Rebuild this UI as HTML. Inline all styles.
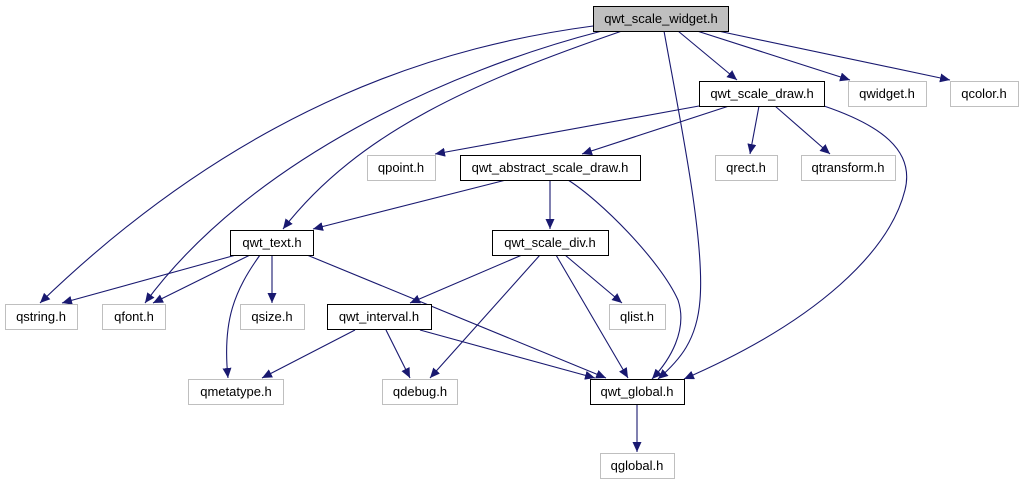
<!DOCTYPE html>
<html><head><meta charset="utf-8"><style>
html,body{margin:0;padding:0;background:#fff;}
svg{display:block;}
text{font-family:"Liberation Sans",sans-serif;font-size:13px;text-anchor:middle;fill:#000;}
</style></head><body>
<svg width="1027" height="485" viewBox="0 0 1027 485" xmlns="http://www.w3.org/2000/svg">
<defs>
<marker id="a" markerWidth="11" markerHeight="9" refX="10" refY="4.5" orient="auto" markerUnits="userSpaceOnUse">
<path d="M0,0 L10,4.5 L0,9 Z" fill="#191970"/>
</marker>
</defs>
<g fill="none" stroke="#191970" stroke-width="1.1" marker-end="url(#a)">
<path d="M678,31 L737,80"/>
<path d="M697,31 L850,80"/>
<path d="M718,31 L950,80"/>
<path d="M664,31 C680,120 705,240 700,300 C697,340 680,360 658,379"/>
<path d="M622,31 C480,80 360,130 283,229"/>
<path d="M602,31 C450,70 250,160 145,303"/>
<path d="M593,26 C450,45 250,100 40,303"/>
<path d="M699,106 L435,154"/>
<path d="M729,106 L582,154"/>
<path d="M759,106 L750,154"/>
<path d="M775,106 L830,154"/>
<path d="M824,106 C880,125 915,150 905,190 C890,250 820,320 684,379"/>
<path d="M506,180 L313,229"/>
<path d="M550,180 L550,229"/>
<path d="M568,180 C600,200 660,260 678,300 C688,330 670,360 652,379"/>
<path d="M236,255 L62,303"/>
<path d="M250,255 L153,303"/>
<path d="M272,255 L272,303"/>
<path d="M260,255 C235,290 222,320 228,378"/>
<path d="M307,255 L606,378"/>
<path d="M522,255 L410,303"/>
<path d="M540,255 L430,378"/>
<path d="M556,255 L628,378"/>
<path d="M565,255 L622,303"/>
<path d="M355,330 L262,378"/>
<path d="M386,330 L410,378"/>
<path d="M420,330 L595,378"/>
<path d="M637,404 L637,452"/>
</g>
<g stroke-width="1">
<rect x="593.5" y="6.5" width="135" height="25" fill="#bfbfbf" stroke="#000"/>
<rect x="699.5" y="81.5" width="125" height="25" fill="#fff" stroke="#000"/>
<rect x="848.5" y="81.5" width="78" height="25" fill="#fff" stroke="#bfbfbf"/>
<rect x="950.5" y="81.5" width="68" height="25" fill="#fff" stroke="#bfbfbf"/>
<rect x="367.5" y="155.5" width="68" height="25" fill="#fff" stroke="#bfbfbf"/>
<rect x="460.5" y="155.5" width="180" height="25" fill="#fff" stroke="#000"/>
<rect x="715.5" y="155.5" width="62" height="25" fill="#fff" stroke="#bfbfbf"/>
<rect x="801.5" y="155.5" width="94" height="25" fill="#fff" stroke="#bfbfbf"/>
<rect x="230.5" y="230.5" width="83" height="25" fill="#fff" stroke="#000"/>
<rect x="492.5" y="230.5" width="116" height="25" fill="#fff" stroke="#000"/>
<rect x="5.5" y="304.5" width="72" height="25" fill="#fff" stroke="#bfbfbf"/>
<rect x="102.5" y="304.5" width="63" height="25" fill="#fff" stroke="#bfbfbf"/>
<rect x="240.5" y="304.5" width="64" height="25" fill="#fff" stroke="#bfbfbf"/>
<rect x="327.5" y="304.5" width="104" height="25" fill="#fff" stroke="#000"/>
<rect x="609.5" y="304.5" width="56" height="25" fill="#fff" stroke="#bfbfbf"/>
<rect x="188.5" y="379.5" width="95" height="25" fill="#fff" stroke="#bfbfbf"/>
<rect x="382.5" y="379.5" width="75" height="25" fill="#fff" stroke="#bfbfbf"/>
<rect x="590.5" y="379.5" width="94" height="25" fill="#fff" stroke="#000"/>
<rect x="600.5" y="453.5" width="74" height="25" fill="#fff" stroke="#bfbfbf"/>
</g>
<text x="661" y="23">qwt_scale_widget.h</text>
<text x="762" y="98">qwt_scale_draw.h</text>
<text x="887" y="98">qwidget.h</text>
<text x="984" y="98">qcolor.h</text>
<text x="401" y="172">qpoint.h</text>
<text x="550" y="172">qwt_abstract_scale_draw.h</text>
<text x="746" y="172">qrect.h</text>
<text x="848" y="172">qtransform.h</text>
<text x="272" y="247">qwt_text.h</text>
<text x="550" y="247">qwt_scale_div.h</text>
<text x="41" y="321">qstring.h</text>
<text x="134" y="321">qfont.h</text>
<text x="272" y="321">qsize.h</text>
<text x="379" y="321">qwt_interval.h</text>
<text x="637" y="321">qlist.h</text>
<text x="236" y="396">qmetatype.h</text>
<text x="420" y="396">qdebug.h</text>
<text x="637" y="396">qwt_global.h</text>
<text x="637" y="470">qglobal.h</text>
</svg>
</body></html>
